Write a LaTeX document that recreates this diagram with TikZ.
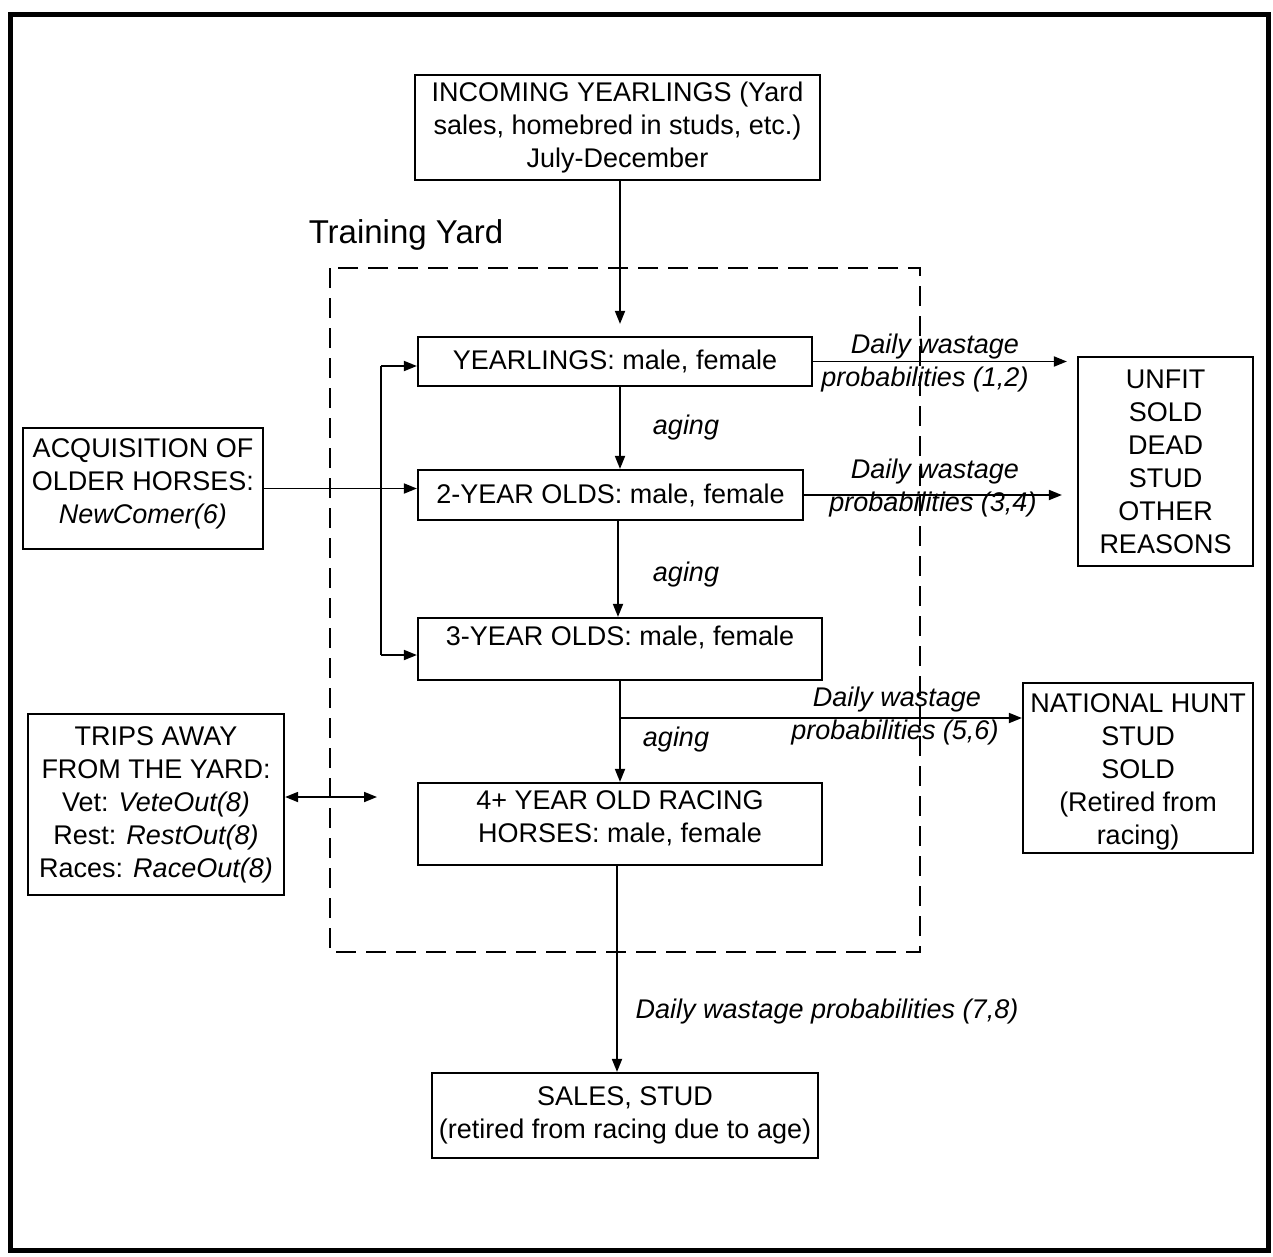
\documentclass[tikz,border=0pt]{standalone}
\usepackage{fontspec}
\setmainfont{Liberation Sans}
\usetikzlibrary{arrows.meta}
\newcommand{\upby}[2]{\raisebox{#1}[\height][\depth]{\begin{tabular}{@{}c@{}}#2\end{tabular}}}
\begin{document}
\begin{tikzpicture}[x=1pt,y=-1pt,
  box/.style={draw, line width=2.2pt, align=center, inner sep=0pt, font=\fontsize{27}{33}\selectfont},
  lbl/.style={align=center, inner sep=0pt, font=\fontsize{27}{33}\selectfont\itshape},
  arr/.style={line width=1.8pt, -{Triangle[length=13pt,width=10pt]}},
  plain/.style={line width=1.8pt},
  yard/.style={line width=2.6pt, dash pattern=on 20pt off 10pt}]
\useasboundingbox (0,0) rectangle (1273,1256);
\draw[line width=5pt] (10,14) rectangle (1268,1250);

\node[box, minimum width=405pt, minimum height=105pt] (inc) at (617.5,127.5) {INCOMING YEARLINGS (Yard\\sales, homebred in studs, etc.)\\July-December};
\node[inner sep=0pt, font=\fontsize{33}{38}\selectfont] (ty) at (406,235) {Training Yard};
\draw[yard] (330,268) rectangle (920,952);

\node[box, minimum width=394pt, minimum height=49pt] (yr1) at (615,361.5) {YEARLINGS: male, female};
\node[box, minimum width=385pt, minimum height=50pt] (yr2) at (610.5,495) {2-YEAR OLDS: male, female};
\node[box, minimum width=404pt, minimum height=62pt] (yr3) at (620,649) {\upby{10pt}{3-YEAR OLDS: male, female}};
\node[box, minimum width=404pt, minimum height=82pt] (yr4) at (620,824) {\upby{5pt}{4+ YEAR OLD RACING\\HORSES: male, female}};
\node[box, minimum width=386pt, minimum height=85pt] (sales) at (625,1115.5) {SALES, STUD\\(retired from racing due to age)};
\node[box, minimum width=240pt, minimum height=121pt] (acq) at (143,488.5) {\upby{5pt}{ACQUISITION OF\\OLDER HORSES:\\\textit{NewComer(6)}}};
\node[box, minimum width=256pt, minimum height=181pt] (trips) at (156,804.5) {TRIPS AWAY\\FROM THE YARD:\\Vet: \textit{VeteOut(8)}\\Rest: \textit{RestOut(8)}\\Races: \textit{RaceOut(8)}};
\node[box, minimum width=175pt, minimum height=209pt] (unfit) at (1165.5,461.5) {UNFIT\\SOLD\\DEAD\\STUD\\OTHER\\REASONS};
\node[box, minimum width=230pt, minimum height=170pt] (nat) at (1138,768) {\upby{-4pt}{NATIONAL HUNT\\STUD\\SOLD\\(Retired from\\racing)}};

% main flow
\draw[arr, shorten >=12pt] ([xshift=2.5pt]inc.south) -- ([xshift=2.5pt]inc.south |- yr1.north);
\draw[arr] ([xshift=5pt]yr1.south) -- ([xshift=5pt]yr1.south |- yr2.north);
\draw[arr] ([xshift=7.5pt]yr2.south) -- ([xshift=7.5pt]yr2.south |- yr3.north);
\draw[arr] (yr3.south) -- (yr3.south |- yr4.north);
\draw[arr] ([xshift=-3pt]yr4.south) -- ([xshift=-3pt]yr4.south |- sales.north);

\node[lbl] (ag1) at (686,428) {aging};
\node[lbl] (ag2) at (686,575) {aging};
\node[lbl] (ag3) at (676,740) {aging};
\node[lbl] (dw78) at (827,1012) {Daily wastage probabilities (7,8)};

% wastage
\draw[arr, shorten >=10pt] (yr1.east) -- (yr1.east -| unfit.west);
\draw[arr, shorten >=15pt] (yr2.east) -- (yr2.east -| unfit.west);
\coordinate (br) at (620,718);
\draw[arr] (br) -- (br -| nat.west);
\node[lbl] (dw12a) at (935,347) {Daily wastage};
\node[lbl] (dw12b) at (925,380) {probabilities (1,2)};
\node[lbl] (dw34a) at (935,472) {Daily wastage};
\node[lbl] (dw34b) at (933,505) {probabilities (3,4)};
\node[lbl] (dw56a) at (897,700) {Daily wastage};
\node[lbl] (dw56b) at (895,733) {probabilities (5,6)};

% loop
\coordinate (lt) at (381,366);
\coordinate (lb) at (381,655);
\draw[plain] (lt) -- (lb);
\draw[arr] (lt) -- (lt -| yr1.west);
\draw[arr] (lb) -- (lb -| yr3.west);

% acquisition
\draw[arr] (acq.east) -- (acq.east -| yr2.west);

% trips
\coordinate (tr) at (377,797);
\draw[line width=1.8pt, {Triangle[length=13pt,width=10pt]}-{Triangle[length=13pt,width=10pt]}] (trips.east |- tr) -- (tr);
\end{tikzpicture}
\end{document}
